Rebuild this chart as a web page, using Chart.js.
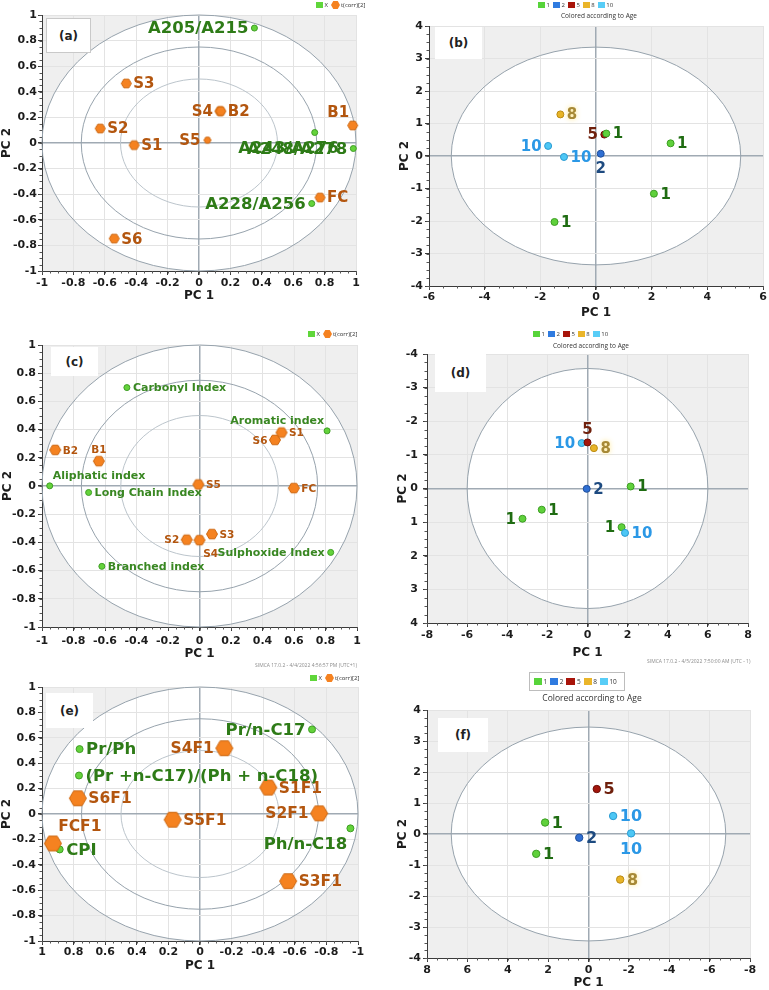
<!DOCTYPE html>
<html>
<head>
    <title>PCA loading and score plots</title>
    <script src="https://cdn.jsdelivr.net/npm/chart.js"></script>
    <style>
        body { margin: 0; background: #fff; }
        #page { position: relative; width: 769px; height: 990px; overflow: hidden; }
        canvas { position: absolute; }
        .tag { position: absolute; background: #fff; font: bold 12px "DejaVu Sans"; color: #222;
               display: flex; align-items: center; justify-content: center; z-index: 2; }
        .lg { position: absolute; font: 6px "Open Sans"; color: #333; white-space: nowrap;
              display: flex; align-items: center; z-index: 2; }
        .lg i { display: inline-block; width: 7px; height: 6px; margin-right: 1.5px; }
        .lg b { font-weight: normal; margin-right: 3px; }
        .hx { display: inline-block; width: 9px; height: 8px; background: #f58220; margin-right: 1px;
              clip-path: polygon(25% 0, 75% 0, 100% 50%, 75% 100%, 25% 100%, 0 50%); }
        .cap { position: absolute; font: 6.5px "Open Sans"; color: #333; white-space: nowrap;
               transform: translateX(-50%); z-index: 2; }
        .stamp { position: absolute; font: 5px "Open Sans"; color: #8c8c8c; white-space: nowrap; }
    </style>
</head>
<body>
<div id="page">
    <canvas id="chartA" width="384" height="318" style="left:0;top:0"></canvas>
    <canvas id="chartB" width="384" height="322" style="left:385px;top:0"></canvas>
    <canvas id="chartC" width="384" height="345" style="left:0;top:320px"></canvas>
    <canvas id="chartD" width="384" height="345" style="left:385px;top:320px"></canvas>
    <canvas id="chartE" width="384" height="335" style="left:0;top:655px"></canvas>
    <canvas id="chartF" width="384" height="335" style="left:385px;top:655px"></canvas>

    <div class="tag" style="left:46px;top:18px;width:43px;height:33px;border:1px solid #c9c9c9">(a)</div>
    <div class="tag" style="left:435px;top:27px;width:47px;height:32px">(b)</div>
    <div class="tag" style="left:51px;top:347px;width:47px;height:29px">(c)</div>
    <div class="tag" style="left:435px;top:354px;width:51px;height:38px">(d)</div>
    <div class="tag" style="left:46px;top:693px;width:47px;height:35px">(e)</div>
    <div class="tag" style="left:438px;top:718px;width:50px;height:34px">(f)</div>

    <div class="lg" style="left:316px;top:1px"><i style="background:#5fd63a"></i><b>X</b><span class="hx"></span><b>t(corr)[2]</b></div>
    <div class="lg" style="left:308px;top:330px"><i style="background:#5fd63a"></i><b>X</b><span class="hx"></span><b>t(corr)[2]</b></div>
    <div class="lg" style="left:310px;top:674px"><i style="background:#5fd63a"></i><b>X</b><span class="hx"></span><b>t(corr)[2]</b></div>

    <div class="lg" style="left:538px;top:1px">
        <i style="background:#57d43a"></i><b>1</b><i style="background:#2f7be0"></i><b>2</b><i style="background:#a8140a"></i><b>5</b><i style="background:#eab52a"></i><b>8</b><i style="background:#58cdf7"></i><b>10</b>
    </div>
    <div class="cap" style="left:599px;top:11px">Colored according to Age</div>

    <div class="lg" style="left:533px;top:330px">
        <i style="background:#57d43a"></i><b>1</b><i style="background:#2f7be0"></i><b>2</b><i style="background:#a8140a"></i><b>5</b><i style="background:#eab52a"></i><b>8</b><i style="background:#58cdf7"></i><b>10</b>
    </div>
    <div class="cap" style="left:591px;top:341px">Colored according to Age</div>

    <div class="lg" style="left:529px;top:672px;height:17px;padding:0 4px;border:1px solid #bdbdbd;font-size:6.5px">
        <i style="background:#57d43a;width:8px;height:7px"></i><b>1</b><i style="background:#2f7be0;width:8px;height:7px"></i><b>2</b><i style="background:#a8140a;width:9px;height:7px"></i><b>5</b><i style="background:#eab52a;width:8px;height:7px"></i><b>8</b><i style="background:#58cdf7;width:8px;height:7px"></i><b>10</b>
    </div>
    <div class="cap" style="left:592px;top:692px;font-size:8.5px">Colored according to Age</div>

    <div class="stamp" style="left:255px;top:662px">SIMCA 17.0.2 - 4/4/2022 4:56:57 PM (UTC+1)</div>
    <div class="stamp" style="left:647px;top:658px">SIMCA 17.0.2 - 4/5/2022 7:50:00 AM (UTC - 1)</div>
</div>

<script>
    // (a) loadings + correlation scores
    const aVarNames = ['A205/A215', 'A243/A276', 'A248/A278', 'A228/A256'];
    const aVarX = [0.353, 0.737, 0.983, 0.718];
    const aVarY = [0.898, 0.082, -0.043, -0.473];
    const aObsNames = ['S3', 'S2', 'S1', 'S4', 'B2', 'S5', 'B1', 'FC', 'S6'];
    const aObsX = [-0.463, -0.629, -0.413, 0.133, 0.139, 0.054, 0.979, 0.771, -0.540];
    const aObsY = [0.465, 0.113, -0.017, 0.249, 0.249, 0.022, 0.137, -0.426, -0.747];

    // (b) scores coloured by age
    const bAge = [8, 5, 1, 1, 10, 10, 2, 1, 1];
    const bX = [-1.28, 0.30, 0.37, 2.68, -1.72, -1.15, 0.17, 2.08, -1.49];
    const bY = [1.28, 0.66, 0.69, 0.39, 0.31, -0.03, 0.07, -1.16, -2.03];

    // (c)
    const cVarNames = ['Carbonyl Index', 'Aromatic index', 'Aliphatic index', 'Long Chain Index', 'Sulphoxide Index', 'Branched index'];
    const cVarX = [-0.461, 0.810, -0.951, -0.704, 0.833, -0.620];
    const cVarY = [0.698, 0.391, 0.001, -0.046, -0.471, -0.570];
    const cObsNames = ['B2', 'B1', 'S5', 'S6', 'S1', 'FC', 'S2', 'S4', 'S3'];
    const cObsX = [-0.916, -0.639, -0.007, 0.479, 0.521, 0.599, -0.081, 0.000, 0.079];
    const cObsY = [0.256, 0.176, 0.011, 0.327, 0.379, -0.015, -0.381, -0.384, -0.341];

    // (d)
    const dAge = [10, 5, 8, 2, 1, 1, 1, 1, 10];
    const dX = [-0.29, 0.00, 0.32, -0.04, 2.15, -2.28, -3.24, 1.70, 1.87];
    const dY = [-1.35, -1.37, -1.20, 0.01, -0.06, 0.63, 0.90, 1.15, 1.32];

    // (e)
    const eVarNames = ['Pr/n-C17', 'Pr/Ph', '(Pr +n-C17)/(Ph + n-C18)', 'Ph/n-C18', 'CPI'];
    const eVarX = [-0.709, 0.762, 0.766, -0.952, 0.888];
    const eVarY = [0.666, 0.511, 0.303, -0.113, -0.279];
    const eObsNames = ['S4F1', 'S1F1', 'S6F1', 'S2F1', 'S5F1', 'FCF1', 'S3F1'];
    const eObsX = [-0.154, -0.432, 0.773, -0.754, 0.173, 0.931, -0.558];
    const eObsY = [0.518, 0.208, 0.124, 0.005, -0.045, -0.232, -0.529];

    // (f)
    const fAge = [5, 10, 10, 1, 2, 1, 8];
    const fX = [-0.41, -1.22, -2.11, 2.15, 0.46, 2.59, -1.57];
    const fY = [1.45, 0.58, 0.02, 0.37, -0.12, -0.64, -1.47];

    const ticks02 = [-1, 1, 0.2];

    // styling
    const GREEN_TXT = '#2e7b17';
    const ORANGE_TXT = '#b3560f';
    const AGE_FILL = { 1: '#5fd13b', 2: '#2f6fd3', 5: '#a3160c', 8: '#e8b427', 10: '#4dc7f5' };
    const AGE_LINE = { 1: '#3c9d23', 2: '#1f4f9c', 5: '#6d0e07', 8: '#bb8b14', 10: '#2b9bd2' };
    const AGE_TEXT = { 1: '#1f6c12', 2: '#1d4a80', 5: '#6f200c', 8: '#a78936', 10: '#2b98e6' };

    const pts = (xs, ys) => xs.map((x, i) => ({ x: x, y: ys[i] }));

    function hexMark(r) {
        const s = Math.ceil(2 * r + 3), c = document.createElement('canvas');
        c.width = s; c.height = s;
        const g = c.getContext('2d');
        g.beginPath();
        for (let k = 0; k < 6; k++) g.lineTo(s / 2 + r * Math.cos(k * Math.PI / 3), s / 2 + r * Math.sin(k * Math.PI / 3));
        g.closePath();
        g.fillStyle = '#f58220'; g.fill();
        g.strokeStyle = '#cc660f'; g.lineWidth = 1; g.stroke();
        return c;
    }

    // grey plot area, white disc, concentric rings
    function rings(list) {
        const radii = (chart, r) => {
            const { x, y } = chart.scales;
            const cx = x.getPixelForValue(0), cy = y.getPixelForValue(0);
            return [cx, cy, Math.abs(x.getPixelForValue(r[0]) - cx), Math.abs(y.getPixelForValue(r[1]) - cy)];
        };
        return {
            id: 'rings',
            beforeDraw(chart) {
                const { ctx, chartArea: a } = chart;
                ctx.save();
                ctx.fillStyle = '#efefef';
                ctx.fillRect(a.left, a.top, a.right - a.left, a.bottom - a.top);
                const e = radii(chart, list[0]);
                ctx.beginPath(); ctx.ellipse(e[0], e[1], e[2], e[3], 0, 0, 2 * Math.PI);
                ctx.fillStyle = '#fff'; ctx.fill();
                ctx.restore();
            },
            beforeDatasetsDraw(chart) {
                const ctx = chart.ctx;
                ctx.save();
                list.forEach((r, k) => {
                    const e = radii(chart, r);
                    ctx.beginPath(); ctx.ellipse(e[0], e[1], e[2], e[3], 0, 0, 2 * Math.PI);
                    ctx.strokeStyle = k === 2 ? '#bcc5cc' : '#97a3ad';
                    ctx.lineWidth = 1; ctx.stroke();
                });
                ctx.restore();
            }
        };
    }

    const minorTicks = {
        id: 'minorTicks',
        afterDraw(chart) {
            const ctx = chart.ctx;
            ctx.save();
            ctx.strokeStyle = '#555'; ctx.lineWidth = 1;
            ctx.beginPath();
            ['x', 'y'].forEach(k => {
                const s = chart.scales[k];
                const step = s.options.ticks.stepSize / 4;
                const n = Math.round((s.max - s.min) / step);
                for (let i = 0; i <= n; i++) {
                    const p = Math.round(s.getPixelForValue(s.min + i * step)) + 0.5;
                    if (k === 'x') { ctx.moveTo(p, s.top); ctx.lineTo(p, s.top + 2.5); }
                    else { ctx.moveTo(s.right, p); ctx.lineTo(s.right - 2.5, p); }
                }
            });
            ctx.stroke();
            ctx.restore();
        }
    };

    const pointLabels = {
        id: 'pointLabels',
        afterDatasetsDraw(chart) {
            const ctx = chart.ctx;
            chart.data.datasets.forEach((ds, di) => {
                if (!ds.labels) return;
                chart.getDatasetMeta(di).data.forEach((pt, i) => {
                    const where = ds.labelPos[i] || 'r';
                    const gap = ds.labelGap, size = ds.labelSize;
                    let x = pt.x, y = pt.y + 1, align = 'center';
                    if (where === 'r') { x += gap; align = 'left'; }
                    else if (where === 'l') { x -= gap; align = 'right'; }
                    else {
                        y += where[0] === 't' ? -(gap + size * 0.45) : gap + size * 0.55;
                        if (where[1] === 'l') { x -= gap * 0.5; align = 'right'; }
                        if (where[1] === 'r') { x += gap * 0.5; align = 'left'; }
                    }
                    const shift = ds.labelShift && ds.labelShift[i];
                    if (shift) { x += shift[0]; y += shift[1]; }
                    ctx.save();
                    ctx.font = 'bold ' + size + 'px "DejaVu Sans"';
                    ctx.fillStyle = Array.isArray(ds.labelColor) ? ds.labelColor[i] : ds.labelColor;
                    ctx.textAlign = align;
                    ctx.textBaseline = 'middle';
                    if (ds.labels[i] === '8') { ctx.shadowColor = 'rgba(255,226,120,0.9)'; ctx.shadowBlur = 5; }
                    ctx.fillText(ds.labels[i], x, y);
                    ctx.restore();
                });
            });
        }
    };

    function axis(a, title, horizontal) {
        return {
            type: 'linear', min: a.min, max: a.max, reverse: !!a.reverse,
            afterFit: s => { if (horizontal) s.height = a.size; else s.width = a.size; },
            border: { display: true, color: '#3a3a3a', width: 1 },
            grid: {
                color: c => (c.tick && c.tick.value === 0) ? '#a0aab3' : '#e3e3e3',
                lineWidth: c => (c.tick && c.tick.value === 0) ? 1.5 : 1,
                tickColor: '#3a3a3a', tickLength: 4, drawTicks: true
            },
            ticks: {
                stepSize: a.step, autoSkip: false, maxRotation: 0, padding: a.pad, color: '#1c1c1c',
                font: { family: 'DejaVu Sans', size: 11, weight: 'bold' },
                callback: v => String(Math.round(v * 10) / 10)
            },
            title: {
                display: true, text: title, color: '#1c1c1c',
                font: { family: 'DejaVu Sans', size: 12, weight: 'bold' },
                padding: { top: a.tpad || 0, bottom: 0 }
            }
        };
    }

    function pcaChart(id, o) {
        return new Chart(document.getElementById(id), {
            type: 'scatter',
            data: { datasets: o.datasets },
            options: {
                responsive: false, animation: false, devicePixelRatio: 1,
                layout: { padding: o.padding },
                plugins: { legend: { display: false }, tooltip: { enabled: false } },
                scales: { x: axis(o.x, 'PC 1', true), y: axis(o.y, 'PC 2', false) }
            },
            plugins: [rings(o.rings), minorTicks, pointLabels]
        });
    }

    function varSet(xs, ys, names, pos, size, r, extra) {
        return Object.assign({
            data: pts(xs, ys), clip: false, pointStyle: 'circle', pointRadius: r,
            backgroundColor: '#64d33b', borderColor: '#3f9e25', borderWidth: 1,
            labels: names, labelPos: pos, labelColor: GREEN_TXT, labelSize: size, labelGap: r + 3
        }, extra || {});
    }

    function obsSet(xs, ys, names, pos, size, r, marks) {
        return {
            data: pts(xs, ys), clip: false, pointStyle: marks, pointRadius: r,
            labels: names, labelPos: pos, labelColor: ORANGE_TXT, labelSize: size, labelGap: r + 2
        };
    }

    function ageSet(xs, ys, ages, pos, size, r) {
        return {
            data: pts(xs, ys), clip: false, pointStyle: 'circle', pointRadius: r, borderWidth: 1,
            backgroundColor: ages.map(a => AGE_FILL[a]), borderColor: ages.map(a => AGE_LINE[a]),
            labels: ages.map(String), labelPos: pos, labelColor: ages.map(a => AGE_TEXT[a]),
            labelSize: size, labelGap: r + 3
        };
    }

    const unitRings = [[1, 1], [0.75, 0.75], [0.5, 0.5]];
    const hexA = hexMark(5), hexSmall = hexMark(3.5), hexC = hexMark(5.5), hexE = hexMark(8.5);

    pcaChart('chartA', {
        padding: { left: 0, top: 15, right: 28, bottom: 15 },
        x: { min: ticks02[0], max: ticks02[1], step: ticks02[2], size: 32, pad: 1.5 },
        y: { min: ticks02[0], max: ticks02[1], step: ticks02[2], size: 42, pad: 1 },
        rings: unitRings,
        datasets: [
            obsSet(aObsX, aObsY, aObsNames, ['r', 'r', 'r', 'l', 'r', 'l', 'tl', 'r', 'r'], 15, 5,
                aObsNames.map(n => n === 'S5' ? hexSmall : hexA)),
            varSet(aVarX, aVarY, aVarNames, ['l', 'l', 'l', 'l'], 16.5, 3, { labelShift: { 1: [30, 15] } })
        ]
    });

    pcaChart('chartB', {
        padding: { left: 0, top: 26, right: 6, bottom: 2 },
        x: { min: -6, max: 6, step: 2, size: 34, pad: 0.5 },
        y: { min: -4, max: 4, step: 1, size: 44, pad: 2, tpad: 13 },
        rings: [[5.2, 3.35]],
        datasets: [ageSet(bX, bY, bAge, ['r', 'l', 'r', 'r', 'l', 'r', 'b', 'r', 'r'], 15, 3.5)]
    });

    pcaChart('chartC', {
        padding: { left: 0, top: 25, right: 27, bottom: 4 },
        x: { min: ticks02[0], max: ticks02[1], step: ticks02[2], size: 34, pad: 4 },
        y: { min: ticks02[0], max: ticks02[1], step: ticks02[2], size: 42, pad: 2, tpad: 1 },
        rings: unitRings,
        datasets: [
            obsSet(cObsX, cObsY, cObsNames, ['r', 't', 'r', 'l', 'r', 'r', 'l', 'br', 'r'], 10.5, 5.5,
                cObsNames.map(() => hexC)),
            Object.assign(varSet(cVarX, cVarY, cVarNames, ['r', 'tl', 'tr', 'r', 'l', 'r'], 11, 3), { labelColor: '#398722' })
        ]
    });

    pcaChart('chartD', {
        padding: { left: 0, top: 34, right: 21, bottom: 5 },
        x: { min: -8, max: 8, step: 2, size: 37, pad: 1.4 },
        y: { min: -4, max: 4, step: 1, size: 42, pad: 5, tpad: 11, reverse: true },
        rings: [[6.0, 3.57]],
        datasets: [ageSet(dX, dY, dAge, ['l', 't', 'r', 'r', 'r', 'r', 'l', 'l', 'r'], 15, 3.5)]
    });

    pcaChart('chartE', {
        padding: { left: 0, top: 32, right: 26, bottom: 17 },
        x: { min: ticks02[0], max: ticks02[1], step: ticks02[2], size: 32, pad: 0.5, reverse: true },
        y: { min: ticks02[0], max: ticks02[1], step: ticks02[2], size: 42, pad: 2 },
        rings: unitRings,
        datasets: [
            obsSet(eObsX, eObsY, eObsNames, ['l', 'r', 'r', 'l', 'r', 'tr', 'r'], 15.5, 8.5,
                eObsNames.map(() => hexE)),
            varSet(eVarX, eVarY, eVarNames, ['l', 'r', 'r', 'bl', 'r'], 16.5, 3.5)
        ]
    });

    pcaChart('chartF', {
        padding: { left: 0, top: 55, right: 19, bottom: 0 },
        x: { min: -8, max: 8, step: 2, size: 32, pad: 1.4, reverse: true },
        y: { min: -4, max: 4, step: 1, size: 42, pad: 2, tpad: 11 },
        rings: [[6.8, 3.45]],
        datasets: [ageSet(fX, fY, fAge, ['r', 'r', 'b', 'r', 'r', 'r', 'r'], 16, 3.7)]
    });
</script>
</body>
</html>
